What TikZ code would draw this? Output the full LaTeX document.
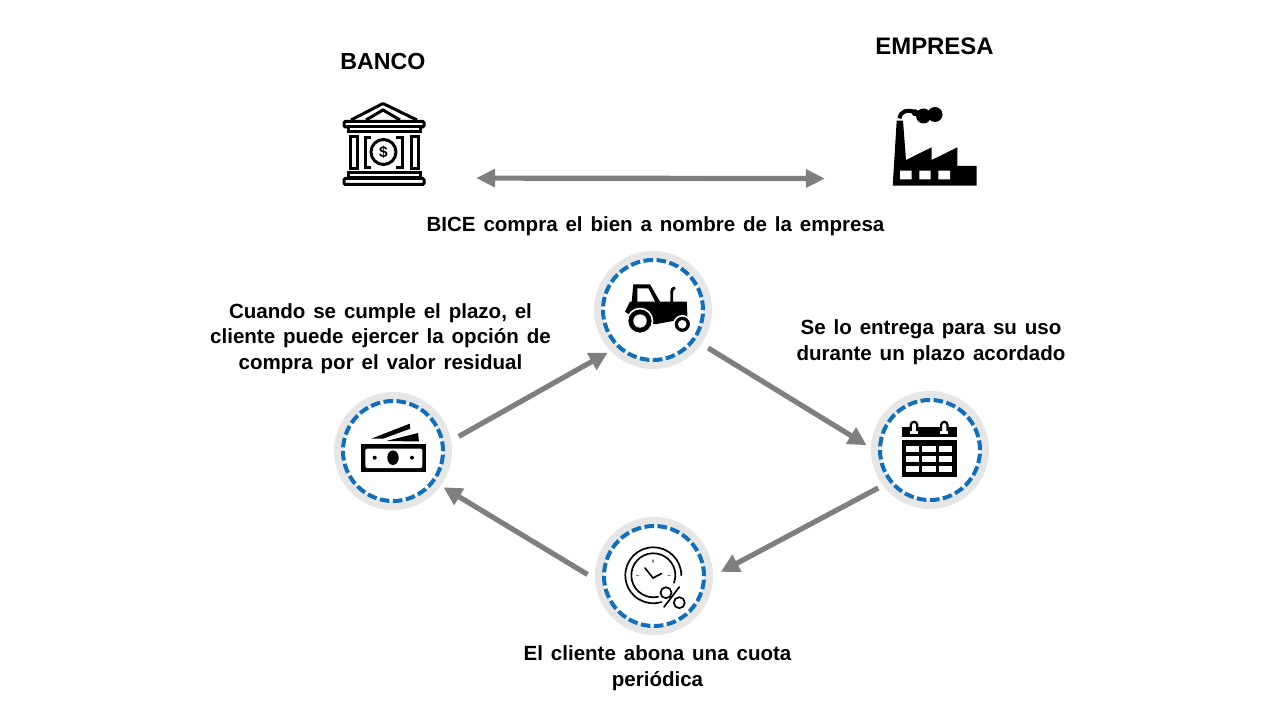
\documentclass[tikz,border=0pt]{standalone}
\usepackage{fontspec}
\setmainfont{Liberation Sans}
\usetikzlibrary{arrows.meta}
\definecolor{ringgray}{HTML}{E7E6E6}
\definecolor{ringblue}{HTML}{0F6FBC}
\definecolor{flowgray}{HTML}{7F7F7F}
\tikzset{
  head/.style={font=\bfseries\fontsize{17}{20}\selectfont,align=center},
  caption/.style={font=\bfseries\fontsize{14.6}{18.1}\selectfont,align=center,execute at begin node={\spaceskip=5.6pt\relax}},
  stage/.style={circle,fill=ringgray,minimum size=29.5mm,inner sep=0pt,outer sep=0pt},
  stagering/.style={circle,fill=white,draw=ringblue,line width=1mm,dash pattern=on 2.4mm off 0.87mm,minimum size=25mm,inner sep=0pt},
  flow/.style={draw=flowgray,line width=1.3mm,-{Triangle[length=4.6mm,width=4.6mm]}},
  iconbox/.style={minimum width=21mm,minimum height=20mm,inner sep=0pt,outer sep=0pt},
  thickline/.style={line width=0.75mm,draw=black,fill=white},
  thinline/.style={line width=0.42mm,draw=black,line cap=round},
}
\begin{document}
\begin{tikzpicture}[x=0.025cm,y=-0.025cm]
  \useasboundingbox[fill=white] (0,0) rectangle (1280,720);
  \node[head,font=\bfseries\fontsize{16.5}{20}\selectfont] (bancotitle) at (383,62) {BANCO};
  \node[head] (empresatitle) at (934.5,46) {EMPRESA};
  \node[iconbox] (bank) at (384,144) {};
  \node[iconbox] (factory) at (935,147) {};
  \node[caption] (compra) at (655.5,226.5) {BICE compra el bien a nombre de la empresa};
  \node[caption] (residual) at (380.5,338.5) {Cuando se cumple el plazo, el\\cliente puede ejercer la opción de\\compra por el valor residual};
  \node[caption] (plazo) at (931,342) {Se lo entrega para su uso\\durante un plazo acordado};
  \node[caption] (cuota) at (657.5,668) {El cliente abona una cuota\\periódica};
  \foreach \name/\x/\y in {tractor/653/310,money/393/451,calendar/930/450,clock/654/576}{
    \node[stage] (\name) at (\x,\y) {};
    \node[stagering] (\name ring) at (\name) {};
  }
  % arrows
  \draw[draw=flowgray,line width=1.3mm,{Triangle[length=4.8mm,width=4.4mm]}-{Triangle[length=4.8mm,width=4.4mm]},shorten <=12.5mm,shorten >=17mm] (bank.-39.81) -- (factory.217.3);
  \draw[flow,shorten <=2mm,shorten >=1.3mm] (tractor.-35) -- (calendar.178);
  \draw[flow,shorten <=1.3mm,shorten >=2.2mm] (calendar.217) -- (clock.0);
  \draw[flow,shorten <=2.2mm,shorten >=0.8mm] (clock.183) -- (money.-36);
  \draw[flow,shorten <=2.2mm,shorten >=0.8mm] (money.10) -- (tractor.224);
  % bank
  \draw[thickline,line join=miter,fill=none] (383,103.5) -- (351,120) (383,103.5) -- (417,120);
  \draw[thickline,fill=none] (366,120) -- (383,110) -- (400,120);
  \draw[thickline,rounded corners=0.3mm] (344,121.5) rectangle (424,127);
  \draw[thickline] (348,127) rectangle (420,132);
  \draw[thickline] (350,137) rectangle (357,169);
  \draw[thickline] (411,137) rectangle (418,169);
  \draw[thickline,fill=none] (371,138) -- (365,138) -- (365,168) -- (371,168);
  \draw[thickline,fill=none] (396,138) -- (402,138) -- (402,168) -- (396,168);
  \draw[thickline] (383.5,152) circle[radius=12.5];
  \node[font=\bfseries\fontsize{11}{12}\selectfont,inner sep=0pt] (dollar) at (383.5,152) {\$};
  \draw[thickline] (348,173) rectangle (420,178);
  \draw[thickline,rounded corners=0.3mm] (344,178.5) rectangle (424,184.5);
  % factory
  \fill (896.7,120.7) -- (903,120.7) -- (906,160) -- (931.7,147.3) -- (931.7,160) -- (957.3,147.3)
    -- (957.3,166) -- (976.7,166) -- (976.7,185.7) -- (892.7,185.7) -- cycle;
  \fill[white] (900,170.7) rectangle (911.7,179.3) (919.3,170.7) rectangle (930.7,179.3) (938.3,170.7) rectangle (950,179.3);
  \draw[line width=1mm] (899.5,118.5) .. controls (900,111) and (908,108.5) .. (917,113);
  \fill (915,112.7) circle[radius=3.5] (923.5,116) circle[radius=7.5] (935,114.5) circle[radius=7.5];
  % tractor
  \fill (633.3,284.3) -- (650,284.3) -- (660,301.7) -- (686.7,301.7) -- (687.7,321) -- (673,321)
    -- (655,324.3) -- (640,321) -- (627,313) -- (625,311.7) -- (630,301.7) -- (631.7,301.7) -- cycle;
  \fill[white] (637.3,288.3) -- (648.3,288.3) -- (655,301.7) -- (637.3,301.7) -- cycle;
  \draw[line width=0.7mm] (671.7,302) -- (671.7,292) .. controls (671.7,289.5) and (673,288) .. (675,287.7);
  \filldraw[draw=white,line width=0.4mm] (640,321) circle[radius=12.5];
  \fill[white] (640,321) circle[radius=6.7];
  \filldraw[draw=white,line width=0.4mm] (682.3,324.3) circle[radius=8.5];
  \fill[white] (682.3,324.3) circle[radius=4.3];
  % money
  \fill (371.3,438.7) -- (409.7,423.7) -- (410.3,428.7) -- (383,438.7) -- cycle;
  \fill (386.3,441) -- (418,433) -- (419,441.5) -- cycle;
  \fill (361.3,443.7) rectangle (426.3,472);
  \fill[white,rounded corners=0.5mm] (365.3,448.7) rectangle (422.3,468);
  \fill (393,457.7) ellipse[x radius=5.7,y radius=7.3];
  \fill (374.7,457.7) circle[radius=2] (412,457.7) circle[radius=2];
  % calendar
  \fill (901.7,426.7) rectangle (956.7,437.3);
  \fill (901.7,440) rectangle (956.7,476.7);
  \foreach \cx in {905.7,922.3,939}{
    \foreach \cy in {445.7,455.7,465.7}{
      \fill[white] (\cx,\cy) rectangle ++(13.3,6);
    }
  }
  \foreach \cx in {914,944.3}{
    \fill[white] (\cx-4,425) rectangle (\cx+4,433.5);
    \draw[line width=0.55mm] (\cx-3.2,431) -- (\cx-3.2,425) arc[start angle=-180,end angle=0,radius=3.2] -- (\cx+3.2,431);
  }
  % clock
  \draw[thinline] (681.3,575.3) arc[start angle=0,end angle=-287,radius=28];
  \draw[thinline] (674,582.8) arc[start angle=20,end angle=-283,radius=22];
  \draw[thinline] (645,568) -- (653,578) -- (661.5,573.5);
  \draw[thinline,gray] (653.3,560) -- (653.3,562) (636.5,575.5) -- (638.5,575.5) (668,575.5) -- (670,575.5);
  \draw[thinline] (664,607) -- (679.3,587);
  \draw[thinline] (666,592.7) circle[radius=5.5] (679.3,602.7) circle[radius=5.5];
\end{tikzpicture}
\end{document}
